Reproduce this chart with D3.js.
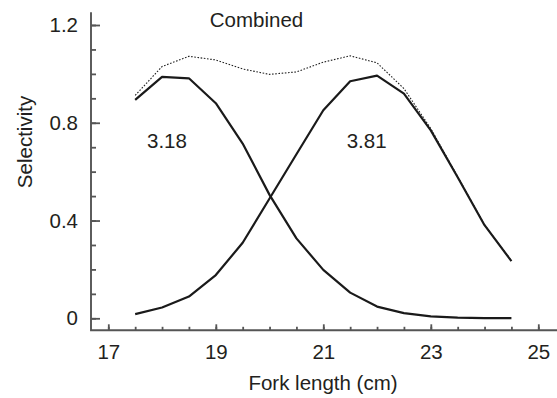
<!DOCTYPE html>
<html>
<head>
<meta charset="utf-8">
<script src="https://cdn.jsdelivr.net/npm/d3@7"></script>
<style>
  body { margin: 0; background: #fff; }
  svg { display: block; font-family: "Liberation Sans", Arial, sans-serif; }
  .axis text { font-size: 20.5px; fill: #231f20; }
  .label { font-size: 20.5px; fill: #231f20; }
</style>
</head>
<body>
<svg id="chart"></svg>
<script>
// fork length (cm) at each size class
const forkLength = [17.5, 18, 18.5, 19, 19.5, 20, 20.5, 21, 21.5, 22, 22.5, 23, 23.5, 24, 24.5];
// selectivity for the 3.18 mesh
const mesh318 = [0.894, 0.988, 0.982, 0.880, 0.715, 0.505, 0.327, 0.198, 0.105, 0.048, 0.021, 0.008, 0.003, 0.001, 0.001];
// selectivity for the 3.81 mesh
const mesh381 = [0.017, 0.044, 0.089, 0.177, 0.309, 0.490, 0.671, 0.851, 0.970, 0.993, 0.919, 0.769, 0.577, 0.381, 0.234];
// combined curve (dotted)
const combined = [0.912, 1.030, 1.072, 1.057, 1.020, 0.998, 1.008, 1.048, 1.074, 1.045, 0.940, 0.776, 0.580, 0.382, 0.235];

const xMajor = [17, 19, 21, 23, 25];
const xMinor = d3.range(17, 25.01, 0.5);
const yMajor = [0, 0.4, 0.8, 1.2];
const yMinor = d3.range(0, 1.201, 0.1);

const width = 557;
const height = 398;

const svg = d3.select('#chart')
    .attr('width', width)
    .attr('height', height);

const axisX0 = 91;     // y-axis line position
const axisY0 = 330.3;  // x-axis line position

const xScale = d3.scaleLinear()
    .domain([17, 25])
    .range([108.3, 538.3]);

const yScale = d3.scaleLinear()
    .domain([0, 1.2])
    .range([318.3, 25]);

// x axis: minor then major ticks, pointing inward
const xMinorAxis = d3.axisBottom(xScale)
    .tickValues(xMinor)
    .tickSize(-3.5)
    .tickFormat('');

const xAxis = d3.axisBottom(xScale)
    .tickValues(xMajor)
    .tickSize(-6)
    .tickPadding(14)
    .tickFormat(d3.format('d'));

svg.append('g')
    .attr('class', 'axis')
    .attr('transform', `translate(0, ${axisY0})`)
    .call(xMinorAxis)
    .call(g => g.select('.domain').remove());

svg.append('g')
    .attr('class', 'axis')
    .attr('transform', `translate(0, ${axisY0})`)
    .call(xAxis)
    .call(g => g.select('.domain').remove());

// y axis
const yMinorAxis = d3.axisLeft(yScale)
    .tickValues(yMinor)
    .tickSize(-5)
    .tickFormat('');

const yAxis = d3.axisLeft(yScale)
    .tickValues(yMajor)
    .tickSize(-9)
    .tickPadding(13)
    .tickFormat(d => d === 0 ? '0' : d3.format('.1f')(d));

svg.append('g')
    .attr('class', 'axis')
    .attr('transform', `translate(${axisX0}, 0)`)
    .call(yMinorAxis)
    .call(g => g.select('.domain').remove());

svg.append('g')
    .attr('class', 'axis')
    .attr('transform', `translate(${axisX0}, 0)`)
    .call(yAxis)
    .call(g => g.select('.domain').remove());

svg.selectAll('.axis line')
    .attr('stroke', '#555')
    .attr('stroke-width', 1.8);

// axis lines (L shape)
svg.append('path')
    .attr('d', `M${axisX0},12.3 V${axisY0} H${width}`)
    .attr('fill', 'none')
    .attr('stroke', '#555')
    .attr('stroke-width', 1.9);

// curves
const line = d3.line()
    .x((d, i) => xScale(forkLength[i]))
    .y(d => yScale(d));

svg.append('path')
    .datum(combined)
    .attr('fill', 'none')
    .attr('stroke', '#222')
    .attr('stroke-width', 1.1)
    .attr('stroke-dasharray', '1.6,1.6')
    .attr('d', line);

[mesh318, mesh381].forEach(series => {
    svg.append('path')
        .datum(series)
        .attr('fill', 'none')
        .attr('stroke', '#1a1a1a')
        .attr('stroke-width', 2.2)
        .attr('stroke-linejoin', 'round')
        .attr('d', line);
});

// labels
svg.append('text')
    .attr('class', 'label')
    .attr('x', 256.5)
    .attr('y', 27)
    .attr('text-anchor', 'middle')
    .text('Combined');

svg.append('text')
    .attr('class', 'label')
    .attr('x', 147)
    .attr('y', 148.3)
    .text('3.18');

svg.append('text')
    .attr('class', 'label')
    .attr('x', 346.7)
    .attr('y', 148.3)
    .text('3.81');

svg.append('text')
    .attr('class', 'label')
    .attr('x', 323)
    .attr('y', 390)
    .attr('text-anchor', 'middle')
    .text('Fork length (cm)');

svg.append('text')
    .attr('class', 'label')
    .attr('transform', 'translate(32, 142) rotate(-90)')
    .attr('text-anchor', 'middle')
    .text('Selectivity');
</script>
</body>
</html>
